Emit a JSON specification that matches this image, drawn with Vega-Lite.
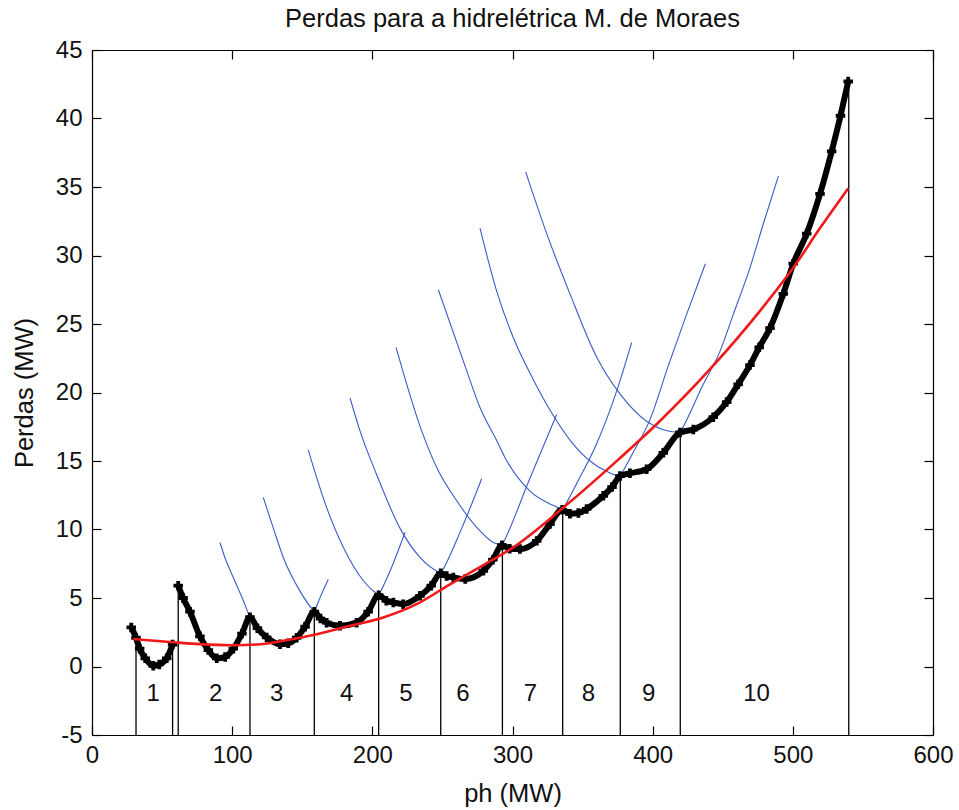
{
  "$schema": "https://vega.github.io/schema/vega-lite/v6.json",
  "width": 841,
  "height": 685,
  "autosize": {"type": "none"},
  "padding": {"left": 92, "top": 50, "right": 26, "bottom": 75},
  "background": "white",
  "title": {"text": "Perdas para a hidrelétrica M. de Moraes", "font": "Liberation Sans", "fontSize": 25.5, "fontWeight": "normal", "color": "#111", "anchor": "middle", "offset": 6},
  "config": {
    "view": {"stroke": null},
    "font": "Liberation Sans",
    "axis": {"grid": false, "labelFlush": false, "domainColor": "#000", "domainWidth": 1.2, "tickColor": "#000", "tickWidth": 1.2, "labelFont": "Liberation Sans", "labelFontSize": 24, "labelColor": "#111", "titleFont": "Liberation Sans", "titleFontSize": 25.5, "titleFontWeight": "normal", "titleColor": "#111"}
  },
  "datasets": {
    "black": [
      {"seg": 1, "x": 28, "y": 2.85}, {"seg": 1, "x": 31.4, "y": 2.1}, {"seg": 1, "x": 34, "y": 1.3}, {"seg": 1, "x": 38, "y": 0.6}, {"seg": 1, "x": 43.7, "y": 0.05}, {"seg": 1, "x": 48, "y": 0.15}, {"seg": 1, "x": 53.3, "y": 0.6}, {"seg": 1, "x": 57.5, "y": 1.6},
      {"seg": 2, "x": 61.5, "y": 5.9}, {"seg": 2, "x": 65, "y": 5.0}, {"seg": 2, "x": 69.9, "y": 4.0}, {"seg": 2, "x": 77, "y": 2.2}, {"seg": 2, "x": 83, "y": 1.2}, {"seg": 2, "x": 89, "y": 0.6}, {"seg": 2, "x": 95, "y": 0.7}, {"seg": 2, "x": 100.8, "y": 1.3}, {"seg": 2, "x": 107, "y": 2.4}, {"seg": 2, "x": 112.7, "y": 3.6},
      {"seg": 2, "x": 118, "y": 2.8}, {"seg": 2, "x": 124.6, "y": 2.12}, {"seg": 2, "x": 134.1, "y": 1.63}, {"seg": 2, "x": 140, "y": 1.7}, {"seg": 2, "x": 146, "y": 2.1}, {"seg": 2, "x": 152, "y": 2.9}, {"seg": 2, "x": 158.6, "y": 4.0},
      {"seg": 2, "x": 163, "y": 3.5}, {"seg": 2, "x": 167.4, "y": 3.2}, {"seg": 2, "x": 176.9, "y": 2.97}, {"seg": 2, "x": 188.8, "y": 3.2}, {"seg": 2, "x": 197, "y": 4.0}, {"seg": 2, "x": 204.5, "y": 5.2},
      {"seg": 2, "x": 210, "y": 4.8}, {"seg": 2, "x": 215, "y": 4.67}, {"seg": 2, "x": 222, "y": 4.55}, {"seg": 2, "x": 234, "y": 5.16}, {"seg": 2, "x": 242, "y": 5.9}, {"seg": 2, "x": 248.8, "y": 6.8},
      {"seg": 2, "x": 253, "y": 6.6}, {"seg": 2, "x": 257.8, "y": 6.5}, {"seg": 2, "x": 266.3, "y": 6.38}, {"seg": 2, "x": 279.2, "y": 6.99}, {"seg": 2, "x": 286, "y": 7.8}, {"seg": 2, "x": 292.5, "y": 8.85},
      {"seg": 2, "x": 298, "y": 8.6}, {"seg": 2, "x": 305.3, "y": 8.57}, {"seg": 2, "x": 317.3, "y": 9.17}, {"seg": 2, "x": 326.7, "y": 10.4}, {"seg": 2, "x": 335.5, "y": 11.45},
      {"seg": 2, "x": 341, "y": 11.15}, {"seg": 2, "x": 347, "y": 11.2}, {"seg": 2, "x": 352.9, "y": 11.5}, {"seg": 2, "x": 364.8, "y": 12.46}, {"seg": 2, "x": 371, "y": 13.1}, {"seg": 2, "x": 376.7, "y": 13.9},
      {"seg": 2, "x": 383.8, "y": 14.1}, {"seg": 2, "x": 395.7, "y": 14.4}, {"seg": 2, "x": 407.6, "y": 15.6}, {"seg": 2, "x": 419.5, "y": 17.08},
      {"seg": 2, "x": 429, "y": 17.3}, {"seg": 2, "x": 443.2, "y": 18.2}, {"seg": 2, "x": 452.8, "y": 19.3}, {"seg": 2, "x": 461, "y": 20.6}, {"seg": 2, "x": 469.4, "y": 22.0}, {"seg": 2, "x": 476, "y": 23.3}, {"seg": 2, "x": 483.7, "y": 24.7}, {"seg": 2, "x": 493.2, "y": 27.2}, {"seg": 2, "x": 500.3, "y": 29.4}, {"seg": 2, "x": 509.9, "y": 31.6}, {"seg": 2, "x": 519.4, "y": 34.5}, {"seg": 2, "x": 527.7, "y": 37.6}, {"seg": 2, "x": 534, "y": 40.2}, {"seg": 2, "x": 539.5, "y": 42.7}
    ],
    "red": [
      {"x": 29.5, "y": 2.0}, {"x": 60, "y": 1.75}, {"x": 77, "y": 1.63}, {"x": 100, "y": 1.55}, {"x": 120, "y": 1.62}, {"x": 136.5, "y": 1.88}, {"x": 160.3, "y": 2.36}, {"x": 184, "y": 2.97}, {"x": 207.8, "y": 3.58}, {"x": 231.6, "y": 4.55}, {"x": 255.4, "y": 6.0}, {"x": 279.2, "y": 7.4}, {"x": 300.6, "y": 8.7}, {"x": 336.3, "y": 11.6}, {"x": 371.9, "y": 14.77}, {"x": 405, "y": 17.9}, {"x": 440.9, "y": 21.7}, {"x": 476.6, "y": 25.96}, {"x": 500.3, "y": 29.1}, {"x": 519.4, "y": 32.0}, {"x": 539.5, "y": 34.9}
    ],
    "blue": [
      {"k": 3, "x": 91.3, "y": 9.05}, {"k": 3, "x": 95, "y": 7.9}, {"k": 3, "x": 100.8, "y": 6.5}, {"k": 3, "x": 108, "y": 4.8}, {"k": 3, "x": 112.7, "y": 3.6}, {"k": 3, "x": 118, "y": 2.8}, {"k": 3, "x": 124.6, "y": 2.12}, {"k": 3, "x": 134.1, "y": 1.63}, {"k": 3, "x": 140, "y": 1.7}, {"k": 3, "x": 146, "y": 2.1}, {"k": 3, "x": 152, "y": 2.9}, {"k": 3, "x": 158.6, "y": 4.0}, {"k": 3, "x": 163, "y": 5.1}, {"k": 3, "x": 168.6, "y": 6.35},
      {"k": 4, "x": 122.2, "y": 12.34}, {"k": 4, "x": 130, "y": 9.9}, {"k": 4, "x": 136.5, "y": 7.96}, {"k": 4, "x": 148.4, "y": 5.5}, {"k": 4, "x": 158.6, "y": 4.0}, {"k": 4, "x": 167.4, "y": 3.2}, {"k": 4, "x": 176.9, "y": 2.97}, {"k": 4, "x": 188.8, "y": 3.2}, {"k": 4, "x": 197, "y": 4.0}, {"k": 4, "x": 204.5, "y": 5.2}, {"k": 4, "x": 214, "y": 7.3}, {"k": 4, "x": 223.3, "y": 9.78},
      {"k": 5, "x": 154.3, "y": 15.8}, {"k": 5, "x": 167.4, "y": 11.6}, {"k": 5, "x": 179.3, "y": 8.7}, {"k": 5, "x": 193.6, "y": 6.26}, {"k": 5, "x": 204.5, "y": 5.2}, {"k": 5, "x": 215, "y": 4.67}, {"k": 5, "x": 222, "y": 4.55}, {"k": 5, "x": 234, "y": 5.16}, {"k": 5, "x": 242, "y": 5.9}, {"k": 5, "x": 248.8, "y": 6.8}, {"k": 5, "x": 263, "y": 9.9}, {"k": 5, "x": 278, "y": 13.7},
      {"k": 6, "x": 184.1, "y": 19.6}, {"k": 6, "x": 191.2, "y": 17.2}, {"k": 6, "x": 203.1, "y": 14.0}, {"k": 6, "x": 219.7, "y": 10.1}, {"k": 6, "x": 234, "y": 7.96}, {"k": 6, "x": 248.8, "y": 6.8}, {"k": 6, "x": 257.8, "y": 6.5}, {"k": 6, "x": 266.3, "y": 6.38}, {"k": 6, "x": 279.2, "y": 6.99}, {"k": 6, "x": 286, "y": 7.8}, {"k": 6, "x": 292.5, "y": 8.85}, {"k": 6, "x": 311.5, "y": 13.5}, {"k": 6, "x": 331.5, "y": 18.4},
      {"k": 7, "x": 216.9, "y": 23.3}, {"k": 7, "x": 235.2, "y": 17.2}, {"k": 7, "x": 247, "y": 14.3}, {"k": 7, "x": 260.2, "y": 12.1}, {"k": 7, "x": 274.5, "y": 10.15}, {"k": 7, "x": 286.3, "y": 9.05}, {"k": 7, "x": 292.5, "y": 8.85}, {"k": 7, "x": 305.3, "y": 8.57}, {"k": 7, "x": 317.3, "y": 9.17}, {"k": 7, "x": 326.7, "y": 10.4}, {"k": 7, "x": 335.5, "y": 11.45}, {"k": 7, "x": 347, "y": 13.6}, {"k": 7, "x": 358.9, "y": 16.0}, {"k": 7, "x": 374.3, "y": 20.1}, {"k": 7, "x": 385, "y": 23.65},
      {"k": 8, "x": 247.1, "y": 27.5}, {"k": 8, "x": 267.3, "y": 21.6}, {"k": 8, "x": 276.8, "y": 18.9}, {"k": 8, "x": 288.7, "y": 16.5}, {"k": 8, "x": 294.6, "y": 15.26}, {"k": 8, "x": 312.5, "y": 12.8}, {"k": 8, "x": 328, "y": 11.8}, {"k": 8, "x": 335.5, "y": 11.45}, {"k": 8, "x": 341, "y": 11.15}, {"k": 8, "x": 347, "y": 11.2}, {"k": 8, "x": 352.9, "y": 11.5}, {"k": 8, "x": 364.8, "y": 12.46}, {"k": 8, "x": 376.7, "y": 13.9}, {"k": 8, "x": 387, "y": 15.8}, {"k": 8, "x": 398, "y": 18.0}, {"k": 8, "x": 411.3, "y": 22.0}, {"k": 8, "x": 424.2, "y": 25.7}, {"k": 8, "x": 437.6, "y": 29.4},
      {"k": 9, "x": 276.8, "y": 32.0}, {"k": 9, "x": 288.7, "y": 27.4}, {"k": 9, "x": 300.6, "y": 24.0}, {"k": 9, "x": 312.5, "y": 21.4}, {"k": 9, "x": 329.2, "y": 18.3}, {"k": 9, "x": 342, "y": 16.4}, {"k": 9, "x": 355.3, "y": 15.0}, {"k": 9, "x": 366, "y": 14.3}, {"k": 9, "x": 376.7, "y": 13.9}, {"k": 9, "x": 383.8, "y": 14.1}, {"k": 9, "x": 395.7, "y": 14.4}, {"k": 9, "x": 407.6, "y": 15.6}, {"k": 9, "x": 419.5, "y": 17.08}, {"k": 9, "x": 436.1, "y": 20.6}, {"k": 9, "x": 448, "y": 23.0}, {"k": 9, "x": 457.5, "y": 25.7}, {"k": 9, "x": 469.4, "y": 29.1}, {"k": 9, "x": 478.9, "y": 32.3}, {"k": 9, "x": 489.7, "y": 35.8},
      {"k": 10, "x": 309.4, "y": 36.1}, {"k": 10, "x": 324.4, "y": 31.6}, {"k": 10, "x": 341, "y": 27.2}, {"k": 10, "x": 360, "y": 22.6}, {"k": 10, "x": 376.7, "y": 19.9}, {"k": 10, "x": 395.7, "y": 17.9}, {"k": 10, "x": 407, "y": 17.3}, {"k": 10, "x": 419.5, "y": 17.08}, {"k": 10, "x": 429, "y": 17.3}, {"k": 10, "x": 443.2, "y": 18.2}, {"k": 10, "x": 452.8, "y": 19.3}, {"k": 10, "x": 461, "y": 20.6}, {"k": 10, "x": 469.4, "y": 22.0}, {"k": 10, "x": 476, "y": 23.3}, {"k": 10, "x": 483.7, "y": 24.7}, {"k": 10, "x": 493.2, "y": 27.2}, {"k": 10, "x": 500.3, "y": 29.4}, {"k": 10, "x": 509.9, "y": 31.6}, {"k": 10, "x": 519.4, "y": 34.5}, {"k": 10, "x": 527.7, "y": 37.6}, {"k": 10, "x": 534, "y": 40.2}, {"k": 10, "x": 539.5, "y": 42.7}
    ],
    "vlines": [
      {"x": 31.4, "y": 2.2}, {"x": 57.5, "y": 1.6}, {"x": 61.5, "y": 5.9}, {"x": 112.7, "y": 3.6}, {"x": 158.6, "y": 4.0}, {"x": 204.5, "y": 5.2}, {"x": 248.8, "y": 6.8}, {"x": 292.8, "y": 8.85}, {"x": 335.8, "y": 11.45}, {"x": 376.9, "y": 13.9}, {"x": 419.7, "y": 17.08}, {"x": 539.9, "y": 42.7}
    ],
    "labels": [
      {"x": 43.7, "label": "1"}, {"x": 88.3, "label": "2"}, {"x": 131.8, "label": "3"}, {"x": 181.7, "label": "4"}, {"x": 224, "label": "5"}, {"x": 264.7, "label": "6"}, {"x": 312.7, "label": "7"}, {"x": 354.1, "label": "8"}, {"x": 397.2, "label": "9"}, {"x": 474.1, "label": "10"}
    ]
  },
  "layer": [
    {
      "data": {"name": "blue"},
      "mark": {"type": "line", "color": "#3b5cc4", "strokeWidth": 1.1, "interpolate": "monotone"},
      "encoding": {
        "x": {"field": "x", "type": "quantitative", "scale": {"domain": [0, 600], "nice": false, "zero": false}, "axis": {"orient": "bottom", "values": [0, 100, 200, 300, 400, 500, 600], "ticks": false, "labelPadding": 8, "title": "ph (MW)", "titlePadding": 14}},
        "y": {"field": "y", "type": "quantitative", "scale": {"domain": [-5, 45], "nice": false, "zero": false}, "axis": {"orient": "left", "values": [-5, 0, 5, 10, 15, 20, 25, 30, 35, 40, 45], "ticks": false, "labelPadding": 10, "labelExpr": "datum.value < 0 ? '-' + abs(datum.value) : datum.label", "title": "Perdas (MW)", "titlePadding": 18}},
        "detail": {"field": "k", "type": "nominal"}
      }
    },
    {
      "data": {"name": "vlines"},
      "mark": {"type": "rule", "color": "#000", "strokeWidth": 1.3},
      "encoding": {
        "x": {"field": "x", "type": "quantitative", "axis": null},
        "y": {"field": "y", "type": "quantitative", "axis": null},
        "y2": {"datum": -5}
      }
    },
    {
      "data": {"name": "black"},
      "mark": {"type": "line", "color": "#000", "strokeWidth": 6, "interpolate": "monotone"},
      "encoding": {
        "x": {"field": "x", "type": "quantitative", "axis": {"orient": "bottom", "values": [0, 100, 200, 300, 400, 500, 600], "labels": false, "domain": false, "tickSize": -9, "title": null}},
        "y": {"field": "y", "type": "quantitative", "axis": {"orient": "left", "values": [-5, 0, 5, 10, 15, 20, 25, 30, 35, 40, 45], "labels": false, "domain": false, "tickSize": -9, "title": null}},
        "detail": {"field": "seg", "type": "nominal"}
      }
    },
    {
      "data": {"name": "black"},
      "mark": {"type": "point", "shape": "cross", "filled": true, "color": "#000", "size": 90, "opacity": 1},
      "encoding": {
        "x": {"field": "x", "type": "quantitative", "axis": null},
        "y": {"field": "y", "type": "quantitative", "axis": null}
      }
    },
    {
      "data": {"name": "red"},
      "mark": {"type": "line", "color": "#f01a1a", "strokeWidth": 2.6, "interpolate": "monotone"},
      "encoding": {
        "x": {"field": "x", "type": "quantitative", "axis": {"orient": "top", "values": [0, 100, 200, 300, 400, 500, 600], "labels": false, "tickSize": -9, "title": null}},
        "y": {"field": "y", "type": "quantitative", "axis": {"orient": "right", "values": [-5, 0, 5, 10, 15, 20, 25, 30, 35, 40, 45], "labels": false, "tickSize": -9, "title": null}}
      }
    },
    {
      "data": {"name": "labels"},
      "mark": {"type": "text", "font": "Liberation Sans", "fontSize": 24, "color": "#111", "align": "center", "baseline": "middle", "y": {"expr": "scale('y', -2)"}},
      "encoding": {
        "x": {"field": "x", "type": "quantitative", "axis": null},
        "text": {"field": "label", "type": "nominal"}
      }
    }
  ],
  "resolve": {"axis": {"x": "independent", "y": "independent"}}
}
